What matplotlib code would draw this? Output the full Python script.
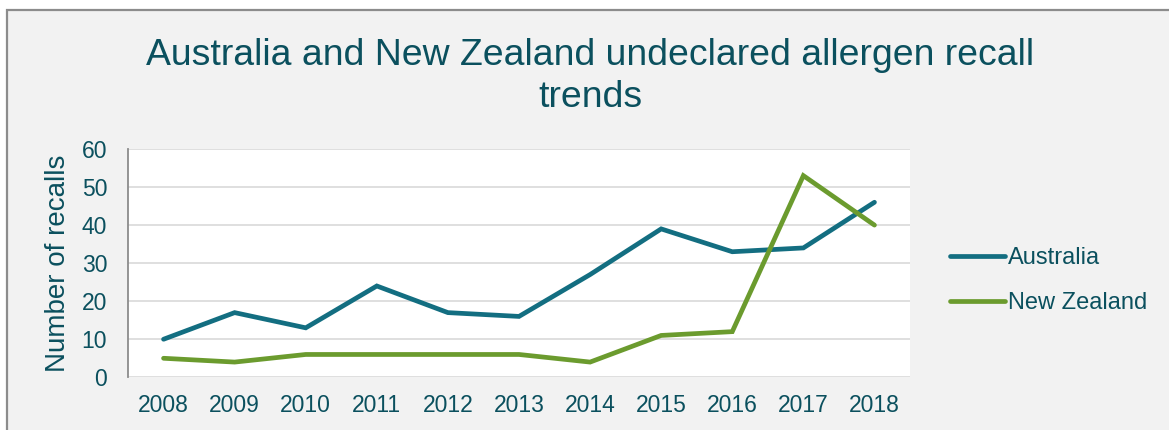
import matplotlib
matplotlib.use("Agg")
import matplotlib.pyplot as plt
from matplotlib.patches import Rectangle

# ── Data ──────────────────────────────────────────────────────────────────────

years = ["2008", "2009", "2010", "2011", "2012", "2013",
         "2014", "2015", "2016", "2017", "2018"]
australia = [10, 17, 13, 24, 17, 16, 27, 39, 33, 34, 46]
new_zealand = [5, 4, 6, 6, 6, 6, 4, 11, 12, 53, 40]
y_ticks = [0, 10, 20, 30, 40, 50, 60]

TEXT = "#0b505e"
AUS_COLOR = "#136e81"
NZ_COLOR = "#6b9b2e"

plt.rcParams["font.family"] = ["Liberation Sans", "DejaVu Sans"]

W, H = 1169, 430
fig = plt.figure(figsize=(W / 100, H / 100), dpi=100, facecolor="white")

# chart frame (grey panel with a border that runs off the right/bottom)
fig.patches.append(Rectangle((7 / W, -0.1), 1.2, (H - 10) / H + 0.1,
                             transform=fig.transFigure, facecolor="#f2f2f2",
                             edgecolor="#8c8c8c", linewidth=1.6, zorder=-5))

ax = fig.add_axes([128 / W, (H - 377.3) / H, (910 - 128) / W, (377.3 - 149) / H])
ax.set_facecolor("white")

x = range(len(years))
ax.plot(x, australia, color=AUS_COLOR, lw=3.4, solid_capstyle="round",
        solid_joinstyle="miter", label="Australia", zorder=3)
ax.plot(x, new_zealand, color=NZ_COLOR, lw=3.4, solid_capstyle="round",
        solid_joinstyle="miter", label="New Zealand", zorder=3)

ax.set_xlim(-0.5, len(years) - 0.5)
ax.set_ylim(0, 60)
ax.set_xticks(list(x))
ax.set_xticklabels(years)
ax.set_yticks(y_ticks)
ax.grid(axis="y", color="#d9d9d9", lw=1.2, zorder=1)
ax.set_axisbelow(True)

for side in ["top", "right", "bottom"]:
    ax.spines[side].set_visible(False)
ax.spines["left"].set_color("#8c8c8c")
ax.spines["left"].set_linewidth(1.3)

ax.tick_params(axis="x", length=0, pad=12, labelsize=16.5, labelcolor=TEXT)
ax.tick_params(axis="y", length=0, pad=15, labelsize=16.5, labelcolor=TEXT)
ax.set_ylabel("Number of recalls", fontsize=20, color=TEXT, labelpad=8)

# title, two lines centred over the panel
fig.text(590 / W, (H - 65) / H, "Australia and New Zealand undeclared allergen recall",
         ha="center", va="baseline", fontsize=26.9, color=TEXT)
fig.text(590 / W, (H - 107) / H, "trends",
         ha="center", va="baseline", fontsize=26.9, color=TEXT)

fig.legend(loc="upper left", bbox_to_anchor=(941 / W, (H - 238) / H),
           frameon=False, fontsize=17, handlelength=2.3, handletextpad=0.15,
           labelspacing=0.95, borderaxespad=0, labelcolor=TEXT)

plt.savefig("out.png", dpi=100)
plt.close()
